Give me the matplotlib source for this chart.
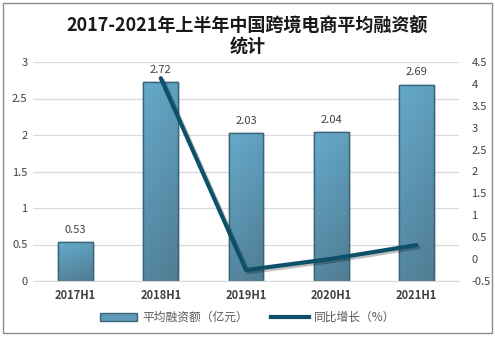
import numpy as np
import matplotlib.pyplot as plt
import matplotlib.patheffects as pe
from matplotlib.patches import Rectangle
from matplotlib.lines import Line2D
from matplotlib.colors import LinearSegmentedColormap

plt.rcParams['font.family'] = ['Noto Sans CJK SC', 'DejaVu Sans']

# 平均融资额 (亿元) 与同比增长
periods = ['2017H1', '2018H1', '2019H1', '2020H1', '2021H1']
amount = [0.53, 2.72, 2.03, 2.04, 2.69]
growth = [np.nan, 4.13, -0.25, 0.005, 0.32]

bar_top = '#66aacb'
bar_bottom = '#4f7c92'
bar_edge = '#3a6478'
line_color = '#0c5169'
text_color = '#404040'

fig = plt.figure(figsize=(4.95, 3.37), dpi=100)
ax = fig.add_axes([33 / 495, 56 / 337, 426 / 495, 219 / 337])
ax2 = ax.twinx()

x = np.arange(len(periods))
bars = ax.bar(x, amount, width=0.41, color=bar_top, edgecolor=bar_edge,
              linewidth=1.0, zorder=2)

# diagonal shading inside each bar
grad = np.linspace(0, 1, 64)
gx, gy = np.meshgrid(grad, grad)
shade = 0.75 * gy + 0.25 * (1 - gx)
cmap = LinearSegmentedColormap.from_list('bar', [bar_bottom, bar_top])
for b in bars:
    x0, y0 = b.get_x(), b.get_y()
    w, h = b.get_width(), b.get_height()
    im = ax.imshow(shade, cmap=cmap, extent=[x0, x0 + w, y0, y0 + h],
                   origin='lower', aspect='auto', zorder=2.1)
    im.set_clip_path(b)
    ax.add_patch(Rectangle((x0, y0), w, h, fill=False, edgecolor=bar_edge,
                           linewidth=1.0, zorder=2.2))

for xi, v in zip(x, amount):
    ax.text(xi, v + 0.1, f'{v:.2f}', ha='center', va='bottom',
            fontsize=8, color=text_color, zorder=3)

ax.set_xlim(-0.5, 4.5)
ax.set_ylim(0, 3)
ax.set_yticks(np.arange(0, 3.01, 0.5))
ax.set_yticklabels(['0', '0.5', '1', '1.5', '2', '2.5', '3'])
ax.grid(axis='y', color='#d9d9d9', linewidth=0.9, zorder=0)
ax.set_axisbelow(True)
ax.set_xticks(x)
ax.set_xticklabels(periods, fontweight='bold', fontsize=8, color=text_color)

ax2.plot(x, growth, color=line_color, linewidth=3, solid_capstyle='round',
         zorder=5,
         path_effects=[pe.SimpleLineShadow(offset=(1.5, -1.5), shadow_color='#000000',
                                           alpha=0.25), pe.Normal()])
ax2.set_ylim(-0.5, 4.5)
ax2.set_yticks(np.arange(-0.5, 4.51, 0.5))
ax2.set_yticklabels(['-0.5', '0', '0.5', '1', '1.5', '2', '2.5', '3', '3.5', '4', '4.5'])
ax2.set_zorder(ax.get_zorder() + 1)
ax2.patch.set_visible(False)

for a in (ax, ax2):
    for s in a.spines.values():
        s.set_visible(False)
    a.tick_params(length=0, labelsize=8, labelcolor=text_color)
ax.tick_params(axis='y', pad=4)
ax.tick_params(axis='x', pad=6)
ax2.tick_params(axis='y', pad=9)
ax.spines['bottom'].set_visible(True)
ax.spines['bottom'].set_color('#d9d9d9')

fig.text(0.5, 0.893, '2017-2021年上半年中国跨境电商平均融资额\n统计', ha='center',
         va='center', fontsize=13, fontweight='bold', color='#1a1a1a',
         linespacing=1.1)

handles = [Rectangle((0, 0), 1, 1, facecolor='#5f9bb8', edgecolor=bar_edge),
           Line2D([0], [0], color=line_color, linewidth=3)]
fig.legend(handles, ['平均融资额（亿元）', '同比增长（%）'], loc='center',
           bbox_to_anchor=(0.5, 0.058), ncol=2, frameon=False, fontsize=8.5,
           labelcolor='#595959', handlelength=3.2, handleheight=0.6,
           columnspacing=2.0, handletextpad=0.4)

fig.add_artist(Rectangle((3 / 495, 4 / 337), 489 / 495, 330 / 337,
                         transform=fig.transFigure, fill=False,
                         edgecolor='#8c8c8c', linewidth=1.0))

fig.savefig('out.png', dpi=100)
